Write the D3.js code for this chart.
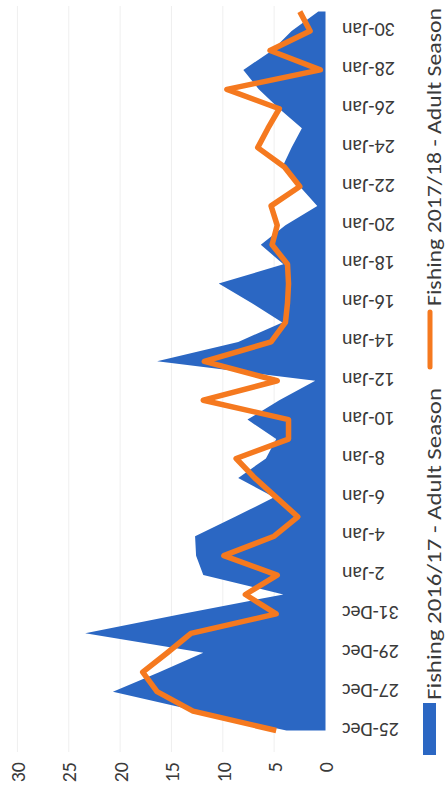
<!DOCTYPE html>
<html>
<head>
<meta charset="utf-8">
<script src="https://cdn.jsdelivr.net/npm/d3@7"></script>
<style>
  html, body { margin: 0; padding: 0; background: #ffffff; }
  svg { display: block; }
  text { font-family: Carlito, Calibri, Lato, "Open Sans", sans-serif; fill: #3a3a3a; }
</style>
</head>
<body>
<svg id="chart" width="446" height="796"></svg>
<script>
// ---- data ----
const dates = ["25-Dec","26-Dec","27-Dec","28-Dec","29-Dec","30-Dec","31-Dec",
  "1-Jan","2-Jan","3-Jan","4-Jan","5-Jan","6-Jan","7-Jan","8-Jan","9-Jan","10-Jan",
  "11-Jan","12-Jan","13-Jan","14-Jan","15-Jan","16-Jan","17-Jan","18-Jan","19-Jan","20-Jan",
  "21-Jan","22-Jan","23-Jan","24-Jan","25-Jan","26-Jan","27-Jan","28-Jan","29-Jan","30-Jan","31-Jan"];
const fishing2016 = [3.8,12.5,20.7,16.2,11.9,23.4,14.0,
  4.1,11.9,12.6,12.7,8.8,5.0,8.5,5.8,4.8,7.6,
  4.5,1.0,16.4,8.5,4.2,7.2,10.4,4.1,6.3,3.9,
  0.8,2.5,4.2,3.3,2.3,4.5,6.5,8.0,5.2,3.3,0.7];
const fishing2017 = [4.8,12.9,16.4,17.8,15.4,13.1,4.8,
  7.8,4.7,9.9,5.0,2.7,4.8,6.9,8.7,3.6,3.6,
  11.9,4.7,11.8,5.3,3.9,3.7,3.6,3.7,5.2,4.7,
  5.3,2.5,4.0,6.6,5.6,4.5,9.6,0.5,5.4,1.5,2.5];
const dateTickLabels = ["25-Dec","27-Dec","29-Dec","31-Dec","2-Jan","4-Jan","6-Jan","8-Jan",
  "10-Jan","12-Jan","14-Jan","16-Jan","18-Jan","20-Jan","22-Jan","24-Jan","26-Jan","28-Jan","30-Jan"];
const valueTicks = [0,5,10,15,20,25,30];
const seriesNames = ["Fishing 2016/17 - Adult Season","Fishing 2017/18 - Adult Season"];
const colors = {blue: "#2b67c3", orange: "#f5791f"};

// ---- drawing (chart drawn landscape, then rotated -90deg as in the scan) ----
const W = 796, H = 446;
const svg = d3.select("#chart");
const g = svg.append("g").attr("transform", `translate(0,${W}) rotate(-90)`);

const x = d3.scalePoint().domain(dates).range([65.5, 784.4]);
const y = d3.scaleLinear().domain([0, 30]).range([325.5, 17.4]);

// gridlines
g.append("g").selectAll("line").data(valueTicks.filter(v => v > 0)).join("line")
  .attr("x1", 44).attr("x2", 790)
  .attr("y1", d => y(d)).attr("y2", d => y(d))
  .attr("stroke", "#efefef").attr("stroke-width", 1);

// area series
const area = d3.area()
  .x((d, i) => x(dates[i]))
  .y0(y(0))
  .y1(d => y(d));
g.append("path").datum(fishing2016)
  .attr("d", area)
  .attr("fill", colors.blue);

// line series
const line = d3.line()
  .x((d, i) => x(dates[i]))
  .y(d => y(d));
g.append("path").datum(fishing2017)
  .attr("d", line)
  .attr("fill", "none")
  .attr("stroke", colors.orange)
  .attr("stroke-width", 5.5)
  .attr("stroke-linejoin", "round")
  .attr("stroke-linecap", "butt");

// value axis
const yAxis = g.append("g").attr("transform", "translate(34,0)")
  .call(d3.axisLeft(y).tickValues(valueTicks).tickSize(0).tickPadding(0));
yAxis.select(".domain").remove();
yAxis.selectAll("text")
  .attr("font-size", 20)
  .attr("font-family", "Carlito, Calibri, Lato, sans-serif")
  .attr("fill", "#3a3a3a")
  .attr("dy", "0.36em");

// category axis
const xAxis = g.append("g").attr("transform", `translate(0,${y(0)})`)
  .call(d3.axisBottom(x).tickValues(dateTickLabels).tickSize(0).tickPadding(0));
xAxis.select(".domain").remove();
xAxis.selectAll("text")
  .attr("font-size", 20)
  .attr("font-family", "Carlito, Calibri, Lato, sans-serif")
  .attr("fill", "#3a3a3a")
  .attr("text-anchor", "end")
  .attr("transform", "rotate(-90)")
  .attr("x", -16.5)
  .attr("y", 0)
  .attr("dy", "0.36em");

// legend
const leg = g.append("g");
leg.append("rect").attr("x", 41).attr("y", 423).attr("width", 52).attr("height", 13)
  .attr("fill", colors.blue);
leg.append("text").attr("x", 96).attr("y", 440.5)
  .attr("font-size", 21)
  .attr("textLength", 312).attr("lengthAdjust", "spacingAndGlyphs")
  .text(seriesNames[0]);
leg.append("line").attr("x1", 429).attr("x2", 484).attr("y1", 430).attr("y2", 430)
  .attr("stroke", colors.orange).attr("stroke-width", 5).attr("stroke-linecap", "round");
leg.append("text").attr("x", 490).attr("y", 440.5)
  .attr("font-size", 21)
  .attr("textLength", 298).attr("lengthAdjust", "spacingAndGlyphs")
  .text(seriesNames[1]);
</script>
</body>
</html>
